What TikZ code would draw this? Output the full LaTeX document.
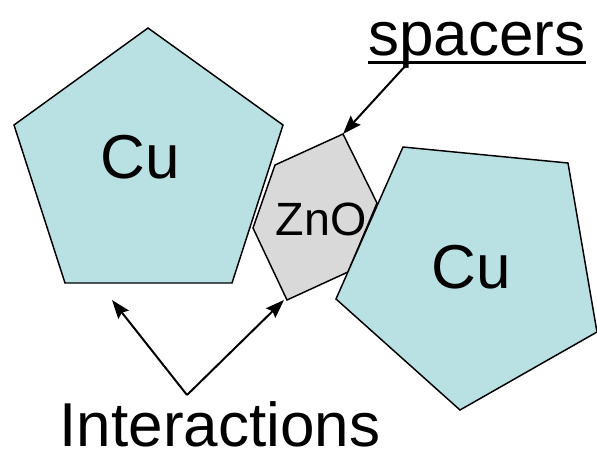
\documentclass[tikz,border=0pt]{standalone}
\usepackage{fontspec}
\setmainfont{Liberation Sans}
\usetikzlibrary{arrows.meta}
\definecolor{cufill}{RGB}{185,224,227}
\definecolor{znofill}{RGB}{217,217,217}
\tikzset{
	grain/.style={draw=black, line width=1.1pt, line join=miter},
	pointer/.style={draw=black, line width=1.5pt, -{Stealth[length=14pt,width=10pt,inset=2pt]}},
	bigtext/.style={anchor=base, inner sep=0pt, font=\fontsize{46.5}{50}\selectfont},
	smalltext/.style={anchor=base, inner sep=0pt, font=\fontsize{35}{38}\selectfont}
}
\begin{document}
\begin{tikzpicture}[x=0.75pt,y=0.75pt,yscale=-1,xscale=1]
	\useasboundingbox (0,0) rectangle (597,454);
	%Shape: Pentagon left
	\draw [grain, fill=cufill] (148,28) -- (283,125) -- (232,283) -- (65,283) -- (14,125) -- cycle ;
	%Shape: Hexagon ZnO
	\draw [grain, fill=znofill] (343,134) -- (275,165) -- (253,228) -- (287,300) -- (348,272) -- (377,203) -- cycle ;
	\coordinate (hextop) at (343,134);
	\coordinate (hexbot) at (284,300);
	%Shape: Pentagon right
	\draw [grain, fill=cufill] (403,147) -- (568,163) -- (597,332) -- (460,410) -- (336,299) -- cycle ;
	\coordinate (pentbot) at (112,300);
	% texts
	\node [bigtext] (culeft) at (140,178) {Cu};
	\node [bigtext] (curight) at (471,288) {Cu};
	\node [smalltext] (zno) at (321,235) {ZnO};
	\node [bigtext] (spacers) at (477,55) {spacers};
	\draw [line width=2.2pt] ([yshift=5.3pt]spacers.base west) -- ([yshift=5.3pt]spacers.base east) ;
	\node [bigtext] (interactions) at (220,446) {Interactions};
	\coordinate (spfoot) at (408,63);
	\coordinate (apex) at (187,395);
	%Arrows
	\draw [pointer] (spfoot) -- (hextop) ;
	\draw [pointer] (apex) -- (pentbot) ;
	\draw [pointer] (apex) -- (hexbot) ;
\end{tikzpicture}
\end{document}
